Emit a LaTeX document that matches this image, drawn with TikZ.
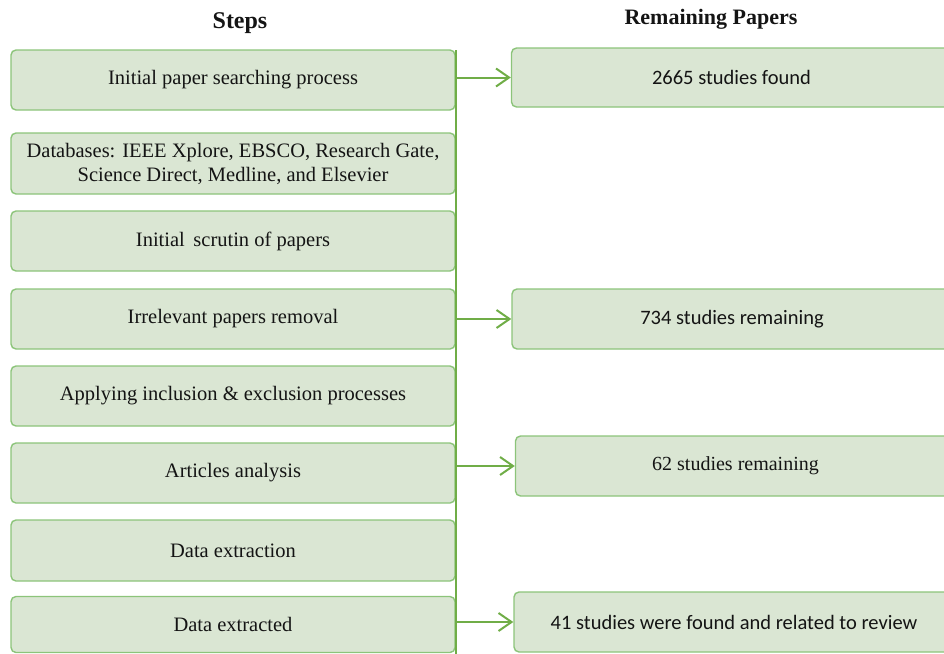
\documentclass[tikz,border=0pt]{standalone}
\usepackage{fontspec}
\setmainfont{Liberation Serif}
\newfontfamily\calfont{Carlito}
\usetikzlibrary{arrows.meta}
\definecolor{boxfill}{RGB}{218,230,211}
\definecolor{boxline}{RGB}{140,196,122}
\definecolor{conn}{RGB}{112,173,71}
\definecolor{txt}{RGB}{20,20,20}
\tikzset{
  stepbox/.style={draw=boxline, fill=boxfill, line width=1.4pt, rounded corners=5pt,
    minimum width=444pt, minimum height=60pt, inner sep=0pt, align=center,
    text=txt, font=\fontsize{20.5}{24}\selectfont},
  resbox/.style={draw=boxline, fill=boxfill, line width=1.4pt, rounded corners=5pt,
    minimum width=440pt, minimum height=60pt, inner sep=0pt, align=center,
    text=txt, font=\calfont\fontsize{20.5}{24}\selectfont},
  head/.style={font=\bfseries\fontsize{22}{26}\selectfont, text=txt, inner sep=0pt},
  link/.style={draw=conn, line width=2pt},
  arr/.style={link, -{Straight Barb[length=13pt,width=18pt,line width=2pt]}}
}
\begin{document}
\begin{tikzpicture}[x=1pt,y=-1pt]
\useasboundingbox (0,0) rectangle (944,653);
\clip (0,0) rectangle (944,653);
% headers
\node[head, font=\bfseries\fontsize{24}{28}\selectfont] (h1) at (240,23) {Steps};
\node[head] (h2) at (711,19) {Remaining Papers};
% left step boxes
\node[stepbox] (s1) at (233,80) {Initial paper searching process};
\node[stepbox, minimum height=61pt] (s2) at (233,163.5) {Databases: IEEE Xplore, EBSCO, Research Gate,\\Science Direct, Medline, and Elsevier};
\node[stepbox] (s3) at (233,241) {Initial\, scrutin of papers};
\node[stepbox] (s4) at (233,319) {Irrelevant papers removal};
\node[stepbox] (s5) at (233,396) {Applying inclusion \& exclusion processes};
\node[stepbox] (s6) at (233,473) {Articles analysis};
\node[stepbox, minimum height=61pt] (s7) at (233,550.5) {Data extraction};
\node[stepbox, minimum height=56pt] (s8) at (233,624.5) {Data extracted};
% spine
\coordinate (top) at (456,50);
\coordinate (bot) at (456,656);
\draw[link] (top) -- (bot);
% right result boxes
\node[resbox, minimum height=59pt] (r1) at (731.5,77.5) {2665 studies found};
\node[resbox] (r2) at (732,319) {734 studies remaining};
\node[resbox, font=\fontsize{20}{24}\selectfont] (r3) at (735.5,466) {\raisebox{-2pt}{62 studies remaining}};
\node[resbox] (r4) at (734,622) {41 studies were found and related to review};
% arrows
\draw[arr] (top |- r1.west) -- (r1.west);
\draw[arr] (top |- r2.west) -- (r2.west);
\draw[arr] (top |- r3.west) -- (r3.west);
\draw[arr] (top |- r4.west) -- (r4.west);
\end{tikzpicture}
\end{document}
